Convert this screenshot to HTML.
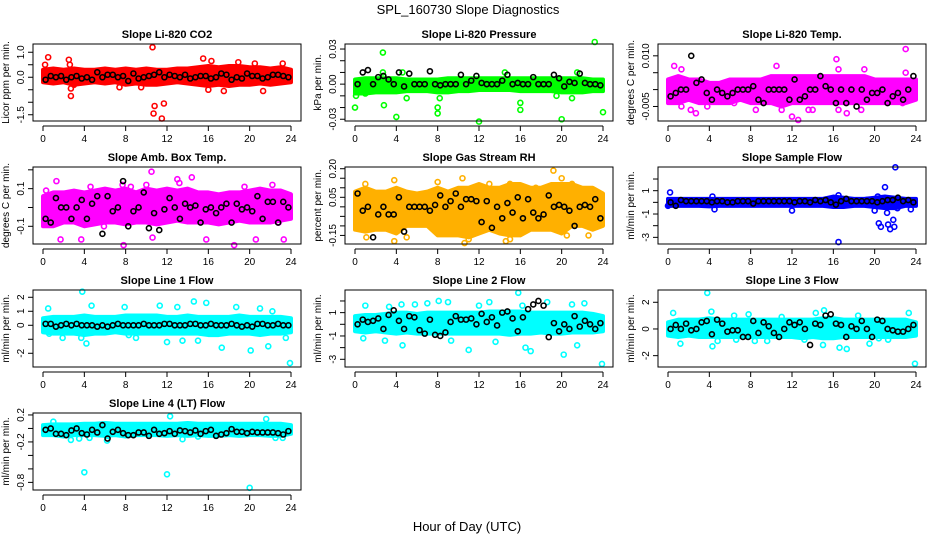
<!DOCTYPE html>
<html><head><meta charset="utf-8"><style>
html,body{margin:0;padding:0;background:#fff;}
svg{display:block;font-family:"Liberation Sans",sans-serif;}
</style></head><body>
<svg id="chart" width="936" height="540" viewBox="0 0 936 540">
<text x="468" y="14" text-anchor="middle" font-size="13">SPL_160730  Slope Diagnostics</text>
<text x="467" y="531" text-anchor="middle" font-size="13">Hour of Day (UTC)</text>
</svg>
<script>
const hours=[0,1,2,3,4,5,6,7,8,9,10,11,12,13,14,15,16,17,18,19,20,21,22,23,24];
const xTicks=[0,4,8,12,16,20,24];

const co2Lo=[-0.2,-0.25,-0.2,-0.3,-0.25,-0.2,-0.25,-0.2,-0.3,-0.25,-0.3,-0.3,-0.25,-0.2,-0.25,-0.3,-0.35,-0.3,-0.35,-0.3,-0.3,-0.25,-0.3,-0.25,-0.2];
const co2Hi=[0.3,0.35,0.3,0.35,0.3,0.3,0.35,0.3,0.35,0.3,0.35,0.3,0.3,0.35,0.35,0.4,0.45,0.4,0.45,0.45,0.4,0.4,0.35,0.4,0.3];
const co2Out=[[0.5,0.8],[0.2,0.5],[2.5,0.7],[2.6,0.5],[2.7,-0.45],[2.7,-0.75],[10.6,1.2],[10.8,-1.15],[10.7,-1.45],[11.5,-1.65],[11.7,-1.05],[15.5,0.75],[16.3,0.65],[18.9,0.6],[20.5,0.55],[21.3,-0.55],[23.2,0.55],[16,-0.5],[9.5,-0.4],[3,-0.3],[7.4,-0.4],[17.5,-0.55]];
const co2Black=[-0.1,0.05,0.0,0.05,-0.1,0.0,0.05,-0.05,0.0,-0.1,0.2,0.0,0.1,0.1,0.0,0.05,-0.15,0.15,-0.05,0.0,0.05,0.1,0.2,0.0,0.1,0.05,0.0,0.1,-0.05,0.0,0.05,0.05,-0.05,0.0,0.15,0.1,-0.1,0.0,-0.05,0.15,0.05,0.05,-0.05,0.0,0.1,0.1,0.05,0.0];

const presLo=[-0.008,-0.008,-0.007,-0.007,-0.007,-0.006,-0.006,-0.006,-0.007,-0.007,-0.006,-0.006,-0.005,-0.005,-0.005,-0.005,-0.006,-0.006,-0.006,-0.006,-0.007,-0.007,-0.007,-0.006,-0.006];
const presHi=[0.004,0.005,0.005,0.005,0.005,0.004,0.004,0.004,0.004,0.005,0.005,0.005,0.005,0.005,0.005,0.005,0.005,0.005,0.005,0.005,0.005,0.005,0.005,0.004,0.004];
const presOut=[[2.7,0.027],[0,-0.02],[0.1,-0.01],[2.8,-0.018],[2.7,0.01],[4,-0.028],[4.6,0.01],[5,-0.012],[8,-0.025],[8,-0.02],[8.2,-0.012],[12,-0.032],[16,-0.022],[16,-0.016],[20,-0.03],[23.2,0.036],[24,-0.024],[21.5,0.01],[19.5,-0.01],[21,-0.012],[14.5,0.01],[1,-0.008]];
const presBlack=[0.0,0.01,0.012,0.0,0.006,0.007,0.004,0.0,0.01,-0.002,0.009,0.0,0.0,0.0,0.011,0.0,-0.001,0.0,0.0,0.0,0.008,0.0,0.003,0.007,0.001,0.0,0.0,0.0,0.003,0.008,0.0,0.001,0.0,0.0,0.006,0.0,0.0,0.0,0.008,0.005,-0.002,0.002,0.001,0.009,0.001,0.0,0.0,-0.001];

const tempLo=[-0.004,-0.004,-0.003,-0.004,-0.004,-0.004,-0.004,-0.003,-0.004,-0.004,-0.004,-0.005,-0.004,-0.004,-0.004,-0.004,-0.004,-0.004,-0.004,-0.004,-0.004,-0.004,-0.004,-0.004,-0.003];
const tempHi=[0.003,0.004,0.003,0.003,0.002,0.002,0.003,0.003,0.003,0.003,0.004,0.004,0.004,0.004,0.004,0.004,0.004,0.004,0.004,0.004,0.003,0.003,0.003,0.003,0.003];
const tempOut=[[0.6,0.007],[1.3,0.006],[1.3,-0.005],[2.2,-0.006],[2.7,-0.007],[3.8,-0.005],[10.5,0.007],[11,-0.006],[12,-0.008],[12.6,-0.009],[13.6,-0.006],[14,-0.006],[16.3,0.009],[16.5,0.006],[16.5,-0.006],[17.3,-0.007],[18.7,-0.006],[19,0.006],[23,0.012],[23,0.005],[22.7,-0.004],[8.5,-0.006],[6.4,-0.004]];
const tempBlack=[-0.002,-0.001,0.0,0.0,0.01,0.002,0.003,-0.001,-0.003,0.0,-0.001,-0.002,-0.001,0.0,0.0,0.0,0.001,-0.003,-0.004,0.0,0.0,0.0,0.0,-0.003,0.003,-0.003,-0.002,0.0,0.0,0.004,0.001,0.0,-0.004,0.0,-0.004,0.0,-0.005,0.0,-0.003,-0.001,-0.001,0.0,-0.004,-0.002,-0.001,-0.003,0.0,0.004];

const ambLo=[-0.1,-0.1,-0.08,-0.08,-0.1,-0.09,-0.08,-0.08,-0.09,-0.08,-0.08,-0.09,-0.08,-0.07,-0.08,-0.08,-0.08,-0.09,-0.08,-0.07,-0.08,-0.08,-0.08,-0.07,-0.06];
const ambHi=[0.06,0.08,0.08,0.09,0.08,0.09,0.1,0.09,0.1,0.08,0.1,0.09,0.1,0.09,0.1,0.08,0.08,0.07,0.08,0.08,0.09,0.1,0.09,0.09,0.07];
const ambOut=[[0.3,0.09],[1.3,0.14],[1.7,-0.17],[3.7,-0.17],[4.6,0.11],[7.7,0.12],[7.8,-0.2],[8.5,0.11],[10,0.12],[10.5,0.19],[10.6,-0.16],[13,0.15],[13.2,0.13],[14.4,0.16],[15.8,-0.17],[18.5,-0.2],[19.5,0.11],[20.6,-0.17],[22.2,0.12],[23.3,-0.17],[22.8,-0.08],[5.9,-0.1],[1,-0.09]];
const ambBlack=[-0.06,-0.08,0.05,0.0,0.0,-0.06,0.0,0.04,-0.06,0.02,0.06,-0.14,0.06,-0.02,0.0,0.14,-0.1,-0.02,0.0,0.08,-0.11,-0.03,-0.12,-0.01,0.05,0.0,-0.06,0.02,0.0,0.01,-0.08,-0.01,0.0,-0.03,0.0,0.02,-0.08,0.02,-0.01,0.0,-0.02,0.06,-0.06,0.03,0.03,-0.08,0.03,0.0];

const rhLo=[-0.12,-0.13,-0.12,-0.12,-0.14,-0.1,-0.1,-0.1,-0.15,-0.15,-0.15,-0.16,-0.14,-0.12,-0.14,-0.15,-0.15,-0.12,-0.12,-0.12,-0.14,-0.1,-0.1,-0.12,-0.1];
const rhHi=[0.08,0.1,0.08,0.08,0.1,0.08,0.07,0.08,0.1,0.08,0.1,0.1,0.12,0.1,0.1,0.12,0.12,0.1,0.1,0.12,0.12,0.12,0.1,0.1,0.07];
const rhOut=[[1,0.12],[1.1,-0.16],[3.8,0.14],[3.8,-0.18],[5,-0.16],[8,0.13],[9.5,0.06],[10.4,0.15],[10.6,-0.19],[11,-0.17],[13,0.12],[14.6,-0.18],[15,0.12],[15,-0.17],[17.5,0.1],[19.2,0.19],[20,0.15],[20.5,-0.15],[21,0.12],[22.6,-0.15],[23.5,0.07]];
const rhBlack=[0.07,-0.02,0.0,-0.16,-0.04,0.0,-0.04,-0.04,0.05,-0.13,0.0,0.0,0.0,0.0,-0.02,0.01,0.06,0.0,0.03,0.07,0.0,0.04,0.04,0.03,-0.08,0.03,-0.11,0.0,-0.06,0.02,-0.03,0.05,-0.06,0.04,-0.03,-0.06,-0.04,0.06,0.0,0.01,0.0,-0.02,-0.1,0.0,0.01,0.0,0.04,-0.06];

const sfLo=[-0.3,-0.3,-0.3,-0.3,-0.35,-0.3,-0.3,-0.3,-0.3,-0.3,-0.3,-0.3,-0.3,-0.3,-0.3,-0.3,-0.4,-0.4,-0.3,-0.3,-0.4,-0.5,-0.5,-0.3,-0.3];
const sfHi=[0.3,0.3,0.3,0.3,0.3,0.3,0.3,0.3,0.3,0.3,0.3,0.3,0.3,0.3,0.3,0.3,0.5,0.4,0.3,0.3,0.4,0.5,0.4,0.3,0.3];
const sfOut=[[0.2,0.85],[0,-0.3],[4.3,0.5],[4.5,-0.6],[12,-0.7],[16.5,-3.4],[16.5,0.6],[20.3,0.5],[20,-0.7],[20.4,-1.8],[20.6,-2.1],[21,1.3],[21.2,-0.9],[21.3,-1.9],[21.5,-2.3],[21.8,-1.5],[21.9,-2.1],[22,3],[22.2,-0.5],[23.5,-0.6],[19.2,0.2]];
const sfBlack=[0.0,-0.3,0.2,0.1,0.1,0.1,0.1,0.1,0.0,0.1,0.1,0.0,0.0,0.1,0.1,0.1,-0.1,0.1,0.1,0.1,0.1,0.1,0.1,0.1,0.0,0.1,0.1,0.0,0.2,0.1,0.2,0.0,-0.2,0.1,0.3,0.1,0.1,0.1,0.1,0.1,0.0,0.1,0.2,0.2,0.4,0.1,0.2,0.0];

const l1Lo=[-0.5,-0.6,-0.6,-0.6,-0.7,-0.6,-0.6,-0.5,-0.6,-0.6,-0.6,-0.6,-0.6,-0.6,-0.6,-0.6,-0.7,-0.7,-0.6,-0.6,-0.6,-0.7,-0.6,-0.6,-0.5];
const l1Hi=[0.5,0.6,0.6,0.6,0.7,0.6,0.6,0.6,0.7,0.7,0.7,0.7,0.6,0.6,0.7,0.6,0.6,0.6,0.6,0.7,0.6,0.6,0.6,0.6,0.5];
const l1Out=[[0.5,1.2],[0.6,-0.6],[1.9,-0.9],[3.8,2.4],[4.2,-1.3],[4.7,1.4],[3.7,-0.9],[7.9,1.3],[8.3,-0.7],[9,-0.9],[11.3,1.4],[12,-1.2],[13,1.3],[13.5,-1.1],[14.6,1.7],[15,-1.1],[15.8,1.6],[17.3,-1.6],[18.7,1.3],[20.1,-1.8],[21,1.2],[21.8,-1.5],[23.9,-2.7],[23.5,-0.9],[22.2,1.0]];
const l1Black=[0.1,0.1,-0.1,0.0,0.1,0.0,0.1,0.0,0.0,0.0,-0.1,0.0,-0.1,0.0,0.1,0.0,0.0,0.0,0.0,0.1,0.0,0.0,0.0,0.1,0.1,0.0,0.0,0.0,0.1,0.1,0.0,0.0,0.1,0.0,0.0,0.0,0.1,0.0,-0.1,0.0,-0.1,0.1,0.1,0.0,0.0,0.1,0.0,0.0];

const l2Lo=[-0.6,-0.7,-0.6,-0.7,-0.8,-0.7,-0.8,-0.8,-0.8,-0.8,-0.8,-0.8,-0.8,-0.8,-0.8,-0.9,-0.8,-0.8,-0.7,-0.8,-0.8,-0.7,-0.7,-0.7,-0.6];
const l2Hi=[0.7,0.8,0.8,0.9,1.0,1.0,0.9,1.0,1.0,1.0,1.0,1.0,1.0,1.1,1.1,1.1,1.1,1.0,1.0,1.0,1.0,1.0,1.0,0.9,0.7];
const l2Out=[[1,1.6],[0.8,-1.2],[2.9,-1.4],[3.3,1.5],[4.5,1.7],[4.6,-1.8],[5.8,1.7],[7,1.8],[8.1,2.0],[9,1.9],[9.3,-1.4],[11,-2.2],[12,1.6],[13,1.9],[13.6,-1.5],[15.8,2.7],[16.2,1.6],[16.5,-2.0],[17,-2.3],[18.6,1.9],[20.2,-2.6],[21,1.7],[21.5,-1.8],[22.2,1.8],[23.9,-3.4]];
const l2Black=[0.0,0.4,0.2,0.3,0.5,-0.4,0.8,1.2,0.3,-0.4,0.7,0.6,-0.5,-0.8,0.4,-0.9,-1.0,-0.7,0.2,0.7,0.4,0.4,0.5,0.0,0.9,0.2,0.6,-0.1,1.0,1.1,0.5,-0.6,0.6,1.3,1.7,2.0,1.6,-1.1,0.1,-0.6,0.0,-0.4,0.7,-0.2,0.3,0.0,-0.4,0.1];

const l3Lo=[-0.5,-0.6,-0.5,-0.6,-0.6,-0.6,-0.6,-0.6,-0.6,-0.6,-0.6,-0.6,-0.6,-0.7,-0.6,-0.7,-0.7,-0.6,-0.6,-0.6,-0.6,-0.6,-0.6,-0.6,-0.5];
const l3Hi=[0.5,0.7,0.7,0.7,0.8,0.7,0.7,0.7,0.7,0.7,0.7,0.7,0.7,0.7,0.7,0.8,0.8,0.7,0.7,0.7,0.7,0.7,0.7,0.7,0.5];
const l3Out=[[0.5,1.2],[1.2,-1.1],[3.8,2.7],[4.2,1.3],[4.3,-1.3],[4.8,-0.9],[6.4,1.0],[6.6,-0.8],[7.8,1.1],[8.4,-0.9],[9.6,-0.9],[11,0.9],[13.2,-0.8],[14.3,1.2],[15,-1.2],[15.1,1.4],[16.6,-1.4],[17.3,-1.5],[18.4,1.0],[19.5,-1.1],[20.4,-0.7],[21.3,-0.8],[23.3,1.2],[23.9,-2.6]];
const l3Black=[0.0,0.3,0.0,0.4,-0.1,0.0,0.5,0.6,-0.4,0.7,0.4,-0.2,-0.1,-0.1,-0.6,-0.6,0.6,-0.3,0.5,0.2,-0.3,-0.6,0.0,0.5,0.3,0.5,0.0,-1.2,0.4,0.3,1.0,1.1,0.4,0.3,-0.6,0.2,0.0,0.6,0.0,-0.6,0.7,0.6,0.0,-0.1,-0.2,-0.2,0.0,0.3];

const l4Lo=[-0.1,-0.1,-0.12,-0.1,-0.1,-0.1,-0.11,-0.1,-0.12,-0.1,-0.1,-0.1,-0.11,-0.1,-0.11,-0.1,-0.11,-0.11,-0.1,-0.11,-0.1,-0.1,-0.11,-0.11,-0.08];
const l4Hi=[0.05,0.06,0.06,0.06,0.07,0.07,0.08,0.07,0.07,0.07,0.07,0.07,0.07,0.07,0.08,0.07,0.07,0.07,0.07,0.07,0.07,0.07,0.07,0.07,0.05];
const l4Out=[[1,0.1],[2.7,-0.17],[3.5,-0.15],[4,-0.65],[4.5,-0.14],[6.2,-0.18],[12,-0.68],[12.3,0.18],[13.5,-0.16],[15,-0.12],[20,-0.88],[21.6,0.14],[22.5,-0.14],[23.2,-0.14]];
const l4Black=[-0.02,0.0,-0.08,-0.08,-0.1,-0.03,0.0,-0.07,-0.09,-0.02,-0.06,0.05,-0.15,-0.05,-0.02,-0.07,-0.1,-0.1,-0.06,-0.06,-0.11,-0.02,-0.08,-0.07,-0.04,-0.08,-0.03,-0.04,-0.06,-0.03,-0.08,-0.04,-0.02,-0.11,-0.09,-0.07,-0.01,-0.05,-0.05,-0.07,-0.05,-0.06,-0.06,-0.06,-0.06,-0.07,-0.09,-0.04];

const panels=[
 {title:"Slope Li-820 CO2",ylab:"Licor ppm per min.",col:0,row:0,ymin:-1.75,ymax:1.33,ticks:[1.0,0.5,0.0,-0.5,-1.0,-1.5],labs:["1.0","","0.0","","","-1.5"],color:"#ff0000",lo:co2Lo,hi:co2Hi,out:co2Out,blk:co2Black},
 {title:"Slope Li-820 Pressure",ylab:"kPa per min.",col:1,row:0,ymin:-0.0315,ymax:0.0343,ticks:[0.03,0.02,0.01,0,-0.01,-0.02,-0.03],labs:["0.03","","","0.00","","","-0.03"],color:"#00ff00",lo:presLo,hi:presHi,out:presOut,blk:presBlack},
 {title:"Slope Li-820 Temp.",ylab:"degrees C per min.",col:2,row:0,ymin:-0.0093,ymax:0.0135,ticks:[0.01,0.005,0,-0.005],labs:["0.010","","","-0.005"],color:"#ff00ff",lo:tempLo,hi:tempHi,out:tempOut,blk:tempBlack},
 {title:"Slope Amb. Box Temp.",ylab:"degrees C per min.",col:0,row:1,ymin:-0.194,ymax:0.215,ticks:[0.2,0.1,0,-0.1],labs:["","0.1","","-0.1"],color:"#ff00ff",lo:ambLo,hi:ambHi,out:ambOut,blk:ambBlack},
 {title:"Slope Gas Stream RH",ylab:"percent per min.",col:1,row:1,ymin:-0.195,ymax:0.209,ticks:[0.2,0.15,0.1,0.05,0,-0.05,-0.1,-0.15],labs:["0.20","","","0.05","","","","-0.15"],color:"#ffb000",lo:rhLo,hi:rhHi,out:rhOut,blk:rhBlack},
 {title:"Slope Sample Flow",ylab:"ml/min per min.",col:2,row:1,ymin:-3.57,ymax:3.03,ticks:[2,1,0,-1,-2,-3],labs:["","1","","-1","","-3"],color:"#0000ff",lo:sfLo,hi:sfHi,out:sfOut,blk:sfBlack},
 {title:"Slope Line 1 Flow",ylab:"ml/min per min.",col:0,row:2,ymin:-2.98,ymax:2.52,ticks:[2,1,0,-1,-2],labs:["2","1","0","","-2"],color:"#00ffff",lo:l1Lo,hi:l1Hi,out:l1Out,blk:l1Black},
 {title:"Slope Line 2 Flow",ylab:"ml/min per min.",col:1,row:2,ymin:-3.66,ymax:2.94,ticks:[2,1,0,-1,-2,-3],labs:["","1","","-1","","-3"],color:"#00ffff",lo:l2Lo,hi:l2Hi,out:l2Out,blk:l2Black},
 {title:"Slope Line 3 Flow",ylab:"ml/min per min.",col:2,row:2,ymin:-2.85,ymax:2.92,ticks:[2,0,-2],labs:["2","0","-2"],color:"#00ffff",lo:l3Lo,hi:l3Hi,out:l3Out,blk:l3Black},
 {title:"Slope Line 4 (LT) Flow",ylab:"ml/min per min.",col:0,row:3,ymin:-0.913,ymax:0.229,ticks:[0.2,0,-0.2,-0.4,-0.6,-0.8],labs:["0.2","","-0.2","","","-0.8"],color:"#00ffff",lo:l4Lo,hi:l4Hi,out:l4Out,blk:l4Black}
];

const NS="http://www.w3.org/2000/svg";
const svg=document.getElementById('chart');
function mk(tag,attrs,parent){const e=document.createElementNS(NS,tag);for(const k in attrs)e.setAttribute(k,attrs[k]);(parent||svg).appendChild(e);return e;}
const colX=[33,345,658], W=268, H=77;
panels.forEach((p,pi)=>{
  const L=colX[p.col], T=44+123*p.row, B=T+H, R=L+W;
  const g=mk('g',{});
  
  
  const xs=h=>L+10+h*(W-20)/24;
  const ys=v=>B-(v-p.ymin)/(p.ymax-p.ymin)*H;
  // band
  let pts=hours.map((h,i)=>xs(h)+','+ys(p.hi[i]));
  pts=pts.concat(hours.slice().reverse().map((h,j)=>{const i=hours.length-1-j;return xs(h)+','+ys(p.lo[i]);}));
  const band=mk('polygon',{points:pts.join(' '),fill:p.color,stroke:p.color,'stroke-width':4,'stroke-linejoin':'round'},g);
  
  
  p.out.forEach(o=>{
    const c=mk('circle',{cx:xs(o[0]),cy:ys(o[1]),r:2.5,fill:'none',stroke:p.color,'stroke-width':1.6},g);
    
    
  });
  p.blk.forEach((v,i)=>{
    const c=mk('circle',{cx:xs(0.25+0.5*i),cy:ys(v),r:2.5,fill:'none',stroke:'#000','stroke-width':1.6},g);
    
    
  });
  const box=mk('rect',{x:L,y:T,width:W,height:H,fill:'none',stroke:'#000','stroke-width':1},g);
  
  
  // x axis
  mk('line',{x1:xs(0),x2:xs(24),y1:B+5,y2:B+5,stroke:'#000'},g);
  xTicks.forEach(t=>{
    mk('line',{x1:xs(t),x2:xs(t),y1:B+5,y2:B+10,stroke:'#000'},g);
    const tx=mk('text',{x:xs(t),y:B+21,'text-anchor':'middle','font-size':10},g);
    tx.textContent=t;
    
    
  });
  // y axis
  p.ticks.forEach((t,i)=>{
    const y=ys(t);
    mk('line',{x1:L-5,x2:L,y1:y,y2:y,stroke:'#000'},g);
    if(p.labs[i]){
      const tx=mk('text',{x:L-9,y:y,'text-anchor':'middle','font-size':10,transform:'rotate(-90 '+(L-9)+' '+y+')'},g);
      tx.textContent=p.labs[i];
      
      
    }
  });
  const yl=mk('text',{x:L-24,y:T+H/2,'text-anchor':'middle','font-size':10,transform:'rotate(-90 '+(L-24)+' '+(T+H/2)+')'},g);
  yl.textContent=p.ylab;
  
  
  const tt=mk('text',{x:L+W/2,y:T-6,'text-anchor':'middle','font-size':11,'font-weight':'bold'},g);
  tt.textContent=p.title;
  
  
});
</script>
</body></html>
